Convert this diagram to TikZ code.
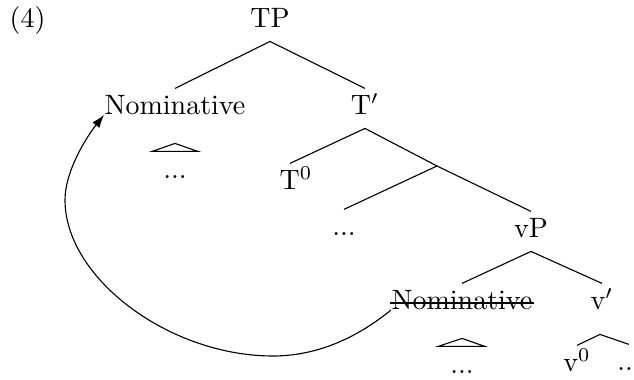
\documentclass[tikz,border=0pt]{standalone}
\usetikzlibrary{arrows.meta}
\begin{document}
\begin{tikzpicture}[x=0.3571pt,y=-0.3571pt,
  lbl/.style={anchor=base,inner sep=0pt,text height=9.3pt,text depth=4.6pt},
  branch/.style={line width=0.4pt},
  strike/.style={line width=0.7pt},
  move/.style={line width=0.4pt,-{Latex[length=4.6pt,width=3.2pt]}}]
\useasboundingbox (0,0) rectangle (634,380);
\node[anchor=base,inner sep=0pt] (ex) at (27.5,28) {(4)};
\node[lbl] (TP) at (270,28) {TP};
\node[lbl] (nom) at (175,115) {Nominative};
\node[lbl] (Tbar) at (365,115) {T$'$};
\coordinate (mid) at (437,166);
\node[lbl] (T0) at (296,190) {T$^0$};
\node[lbl] (d1) at (344,236) {...};
\node[lbl] (vP) at (531,238) {vP};
\node[lbl] (snom) at (462,310) {Nominative};
\node[lbl] (vbar) at (602,310) {v$'$};
\node[lbl] (v0) at (577,372) {v$^0$};
\node[lbl] (d3) at (629,371) {...};
\node[lbl] (d0) at (175,179) {...};
\node[lbl] (d2) at (462,374) {...};
\draw[branch] (TP.south) -- (nom.north);
\draw[branch] (TP.south) -- (Tbar.north);
\draw[branch] (Tbar.south) -- ([shift={(-6,0)}]T0.north);
\draw[branch] (Tbar.south) -- (mid) -- (vP.north);
\draw[branch] (mid) -- (d1.north);
\draw[branch] (vP.south) -- (snom.north);
\draw[branch] (vP.south) -- (vbar.north);
\coordinate (vapex) at ([shift={(-2,11)}]vbar.south);
\draw[branch] (v0.north) -- (vapex) -- (d3.north);
\draw[branch] ([shift={(0,15)}]nom.south) -- ++(-23,8) -- ++(46,0) -- cycle;
\draw[branch] ([shift={(0,15)}]snom.south) -- ++(-24,8) -- ++(47,0) -- cycle;
\draw[strike] ([shift={(-1,-7)}]snom.base west) -- ([shift={(1,-7)}]snom.base east);
\draw[move] (snom.base west) .. controls (358,337) and (318,356) .. (273,356) .. controls (169,356) and (65,278) .. (65,200) .. controls (65,170) and (88,135) .. (nom.base west);
\end{tikzpicture}
\end{document}
